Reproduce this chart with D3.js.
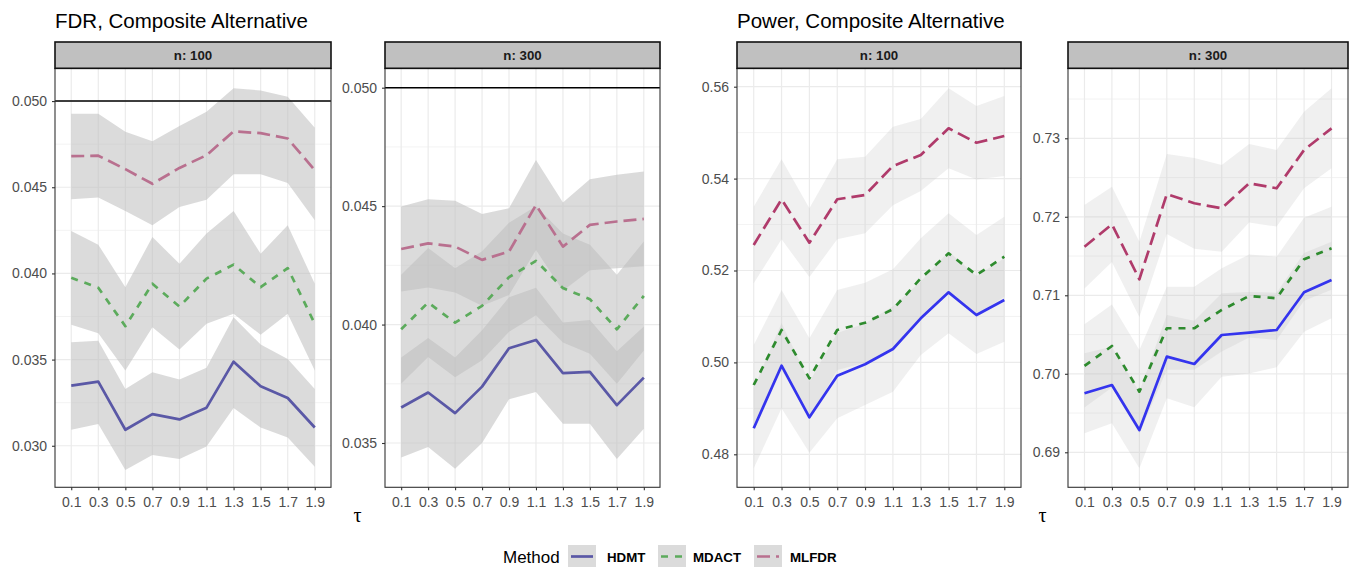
<!DOCTYPE html>
<html>
<head>
<meta charset="utf-8">
<script src="https://cdn.jsdelivr.net/npm/d3@7"></script>
<style>
  body { margin: 0; background: #ffffff; }
  svg { display: block; font-family: "Liberation Sans", Arial, Helvetica, sans-serif; }
</style>
</head>
<body>
<script>
// ---------------- DATA ----------------
const tau = ["0.1","0.3","0.5","0.7","0.9","1.1","1.3","1.5","1.7","1.9"];
const methods = ["HDMT","MDACT","MLFDR"];
const plotTitles = ["FDR, Composite Alternative", "Power, Composite Alternative"];
const stripLabels = ["n: 100", "n: 300", "n: 100", "n: 300"];
const xTitle = "τ";
const legendTitle = "Method";

// FDR, n = 100
const fdr100_HDMT     = [0.03349,0.03372,0.03093,0.03184,0.03153,0.03221,0.03488,0.03345,0.03277,0.03106];
const fdr100_HDMT_lo  = [0.03093,0.03126,0.02860,0.02946,0.02923,0.02996,0.03219,0.03106,0.03048,0.02878];
const fdr100_HDMT_hi  = [0.03601,0.03610,0.03330,0.03426,0.03384,0.03452,0.03746,0.03587,0.03504,0.03330];
const fdr100_MDACT    = [0.03975,0.03917,0.03694,0.03940,0.03808,0.03970,0.04051,0.03920,0.04031,0.03708];
const fdr100_MDACT_lo = [0.03702,0.03653,0.03436,0.03688,0.03558,0.03708,0.03766,0.03644,0.03766,0.03436];
const fdr100_MDACT_hi = [0.04246,0.04167,0.03920,0.04211,0.04056,0.04231,0.04362,0.04114,0.04279,0.03940];
const fdr100_MLFDR    = [0.04680,0.04683,0.04605,0.04520,0.04612,0.04686,0.04824,0.04814,0.04783,0.04599];
const fdr100_MLFDR_lo = [0.04430,0.04440,0.04362,0.04279,0.04386,0.04428,0.04576,0.04576,0.04525,0.04308];
const fdr100_MLFDR_hi = [0.04926,0.04926,0.04822,0.04767,0.04856,0.04938,0.05074,0.05062,0.05025,0.04845];

// FDR, n = 300
const fdr300_HDMT     = [0.03650,0.03713,0.03626,0.03738,0.03900,0.03935,0.03795,0.03800,0.03660,0.03776];
const fdr300_HDMT_lo  = [0.03439,0.03483,0.03391,0.03500,0.03685,0.03715,0.03581,0.03581,0.03433,0.03560];
const fdr300_HDMT_hi  = [0.03861,0.03943,0.03861,0.03976,0.04115,0.04155,0.04009,0.04019,0.03887,0.03992];
const fdr300_MDACT    = [0.03980,0.04093,0.04008,0.04079,0.04200,0.04269,0.04154,0.04107,0.03980,0.04121];
const fdr300_MDACT_lo = [0.03750,0.03863,0.03778,0.03849,0.03970,0.04039,0.03924,0.03877,0.03750,0.03891];
const fdr300_MDACT_hi = [0.04210,0.04323,0.04238,0.04309,0.04430,0.04499,0.04384,0.04337,0.04210,0.04351];
const fdr300_MLFDR    = [0.04319,0.04343,0.04329,0.04273,0.04308,0.04505,0.04329,0.04421,0.04435,0.04446];
const fdr300_MLFDR_lo = [0.04140,0.04157,0.04135,0.04079,0.04125,0.04315,0.04143,0.04229,0.04238,0.04246];
const fdr300_MLFDR_hi = [0.04498,0.04529,0.04523,0.04467,0.04491,0.04695,0.04515,0.04613,0.04632,0.04646];

// Power, n = 100
const pow100_HDMT     = [0.48566,0.49928,0.48805,0.49711,0.49959,0.50292,0.50960,0.51525,0.51031,0.51358];
const pow100_HDMT_lo  = [0.47695,0.49000,0.48035,0.48784,0.49073,0.49362,0.50160,0.50633,0.50183,0.50451];
const pow100_HDMT_hi  = [0.49437,0.50856,0.49575,0.50638,0.50845,0.51222,0.51760,0.52417,0.51879,0.52265];
const pow100_MDACT    = [0.49508,0.50705,0.49654,0.50705,0.50864,0.51156,0.51830,0.52374,0.51902,0.52300];
const pow100_MDACT_lo = [0.48638,0.49835,0.48784,0.49835,0.49994,0.50286,0.50960,0.51504,0.51032,0.51430];
const pow100_MDACT_hi = [0.50378,0.51575,0.50524,0.51575,0.51734,0.52026,0.52700,0.53244,0.52772,0.53170];
const pow100_MLFDR    = [0.52555,0.53549,0.52605,0.53550,0.53643,0.54274,0.54514,0.55095,0.54781,0.54927];
const pow100_MLFDR_lo = [0.51721,0.52678,0.51856,0.52680,0.52809,0.53418,0.53731,0.54225,0.53982,0.54056];
const pow100_MLFDR_hi = [0.53389,0.54420,0.53354,0.54420,0.54477,0.55130,0.55297,0.55965,0.55580,0.55798];

// Power, n = 300
const pow300_HDMT     = [0.69752,0.69857,0.69284,0.70218,0.70125,0.70494,0.70524,0.70558,0.71038,0.71195];
const pow300_HDMT_lo  = [0.69242,0.69370,0.68796,0.69688,0.69573,0.69963,0.70005,0.70083,0.70536,0.70707];
const pow300_HDMT_hi  = [0.70262,0.70344,0.69772,0.70748,0.70677,0.71025,0.71043,0.71033,0.71540,0.71683];
const pow300_MDACT    = [0.70100,0.70354,0.69772,0.70580,0.70580,0.70813,0.70991,0.70962,0.71459,0.71599];
const pow300_MDACT_lo = [0.69570,0.69824,0.69242,0.70050,0.70050,0.70283,0.70461,0.70432,0.70929,0.71069];
const pow300_MDACT_hi = [0.70630,0.70884,0.70302,0.71110,0.71110,0.71343,0.71521,0.71492,0.71989,0.72129];
const pow300_MLFDR    = [0.71619,0.71904,0.71204,0.72290,0.72172,0.72108,0.72427,0.72363,0.72851,0.73127];
const pow300_MLFDR_lo = [0.71088,0.71425,0.70725,0.71780,0.71594,0.71556,0.71927,0.71875,0.72363,0.72617];
const pow300_MLFDR_hi = [0.72150,0.72383,0.71683,0.72800,0.72750,0.72660,0.72927,0.72851,0.73339,0.73637];

// axis ticks
const fdr100_ticks = [0.030,0.035,0.040,0.045,0.050];
const fdr300_ticks = [0.035,0.040,0.045,0.050];
const pow100_ticks = [0.48,0.50,0.52,0.54,0.56];
const pow300_ticks = [0.69,0.70,0.71,0.72,0.73];
const fdrTarget = 0.05;

// ---------------- STYLE / LAYOUT ----------------
const W = 1349, H = 567;
const panelTop = 68.5, panelBottom = 487.3;
const stripTop = 42, stripBottom = 68.3;

const colorsFaded = { HDMT: "#5a58a6", MDACT: "#5cab5c", MLFDR: "#b9708f" };
const colorsBright = { HDMT: "#3434ee", MDACT: "#2e8b2e", MLFDR: "#b03b6b" };
const dashes = { HDMT: null, MDACT: "7,7", MLFDR: "13,6" };

function series(mean, lo, hi) { return { mean, lo, hi }; }

const panels = [
  { x0: 55, x1: 331, domain: [0.02759, 0.05189], ticks: fdr100_ticks, fmt: ".3f", hline: fdrTarget,
    colors: colorsFaded, ribbonOpacity: 0.55, strip: stripLabels[0],
    data: { HDMT: series(fdr100_HDMT, fdr100_HDMT_lo, fdr100_HDMT_hi),
            MDACT: series(fdr100_MDACT, fdr100_MDACT_lo, fdr100_MDACT_hi),
            MLFDR: series(fdr100_MLFDR, fdr100_MLFDR_lo, fdr100_MLFDR_hi) } },
  { x0: 385, x1: 660, domain: [0.03313, 0.05081], ticks: fdr300_ticks, fmt: ".3f", hline: fdrTarget,
    colors: colorsFaded, ribbonOpacity: 0.55, strip: stripLabels[1],
    data: { HDMT: series(fdr300_HDMT, fdr300_HDMT_lo, fdr300_HDMT_hi),
            MDACT: series(fdr300_MDACT, fdr300_MDACT_lo, fdr300_MDACT_hi),
            MLFDR: series(fdr300_MLFDR, fdr300_MLFDR_lo, fdr300_MLFDR_hi) } },
  { x0: 737, x1: 1021, domain: [0.47282, 0.56396], ticks: pow100_ticks, fmt: ".2f", hline: null,
    colors: colorsBright, ribbonOpacity: 0.23, strip: stripLabels[2],
    data: { HDMT: series(pow100_HDMT, pow100_HDMT_lo, pow100_HDMT_hi),
            MDACT: series(pow100_MDACT, pow100_MDACT_lo, pow100_MDACT_hi),
            MLFDR: series(pow100_MLFDR, pow100_MLFDR_lo, pow100_MLFDR_hi) } },
  { x0: 1068, x1: 1348, domain: [0.68554, 0.73889], ticks: pow300_ticks, fmt: ".2f", hline: null,
    colors: colorsBright, ribbonOpacity: 0.23, strip: stripLabels[3],
    data: { HDMT: series(pow300_HDMT, pow300_HDMT_lo, pow300_HDMT_hi),
            MDACT: series(pow300_MDACT, pow300_MDACT_lo, pow300_MDACT_hi),
            MLFDR: series(pow300_MLFDR, pow300_MLFDR_lo, pow300_MLFDR_hi) } }
];

// ---------------- DRAW ----------------
const svg = d3.select("body").append("svg").attr("width", W).attr("height", H);
svg.append("rect").attr("width", W).attr("height", H).attr("fill", "#ffffff");

// titles
svg.append("text").attr("x", 55).attr("y", 27.5).attr("font-size", "20.5px").attr("fill", "#000")
  .text(plotTitles[0]);
svg.append("text").attr("x", 737).attr("y", 27.5).attr("font-size", "20.5px").attr("fill", "#000")
  .text(plotTitles[1]);

panels.forEach((p, i) => {
  const x = d3.scalePoint().domain(tau).range([p.x0, p.x1]).padding(0.6);
  const y = d3.scaleLinear().domain(p.domain).range([panelBottom, panelTop]);
  const g = svg.append("g");

  const clipId = "clip" + i;
  svg.append("clipPath").attr("id", clipId).append("rect")
    .attr("x", p.x0).attr("y", panelTop).attr("width", p.x1 - p.x0).attr("height", panelBottom - panelTop);

  // minor horizontal grid (midpoints between major ticks)
  const step = p.ticks[1] - p.ticks[0];
  const minor = [];
  for (let k = -1; k < p.ticks.length; k++) {
    const v = p.ticks[0] + (k + 0.5) * step;
    if (v > p.domain[0] && v < p.domain[1]) minor.push(v);
  }
  g.selectAll(".minor").data(minor).join("line")
    .attr("x1", p.x0).attr("x2", p.x1).attr("y1", d => y(d)).attr("y2", d => y(d))
    .attr("stroke", "#ebebeb").attr("stroke-width", 0.6);
  g.selectAll(".major").data(p.ticks).join("line")
    .attr("x1", p.x0).attr("x2", p.x1).attr("y1", d => y(d)).attr("y2", d => y(d))
    .attr("stroke", "#ebebeb").attr("stroke-width", 1.2);
  g.selectAll(".vgrid").data(tau).join("line")
    .attr("x1", d => x(d)).attr("x2", d => x(d)).attr("y1", panelTop).attr("y2", panelBottom)
    .attr("stroke", "#ebebeb").attr("stroke-width", 1.2);

  const plotG = g.append("g").attr("clip-path", `url(#${clipId})`);

  // ribbons
  methods.forEach(m => {
    const s = p.data[m];
    const pts = tau.map((t, j) => ({ t, lo: s.lo[j], hi: s.hi[j] }));
    const area = d3.area().x(d => x(d.t)).y0(d => y(d.lo)).y1(d => y(d.hi));
    plotG.append("path").datum(pts).attr("d", area)
      .attr("fill", "#bebebe").attr("fill-opacity", p.ribbonOpacity);
  });

  if (p.hline !== null) {
    plotG.append("line").attr("x1", p.x0).attr("x2", p.x1)
      .attr("y1", y(p.hline)).attr("y2", y(p.hline))
      .attr("stroke", "#000").attr("stroke-width", 1.4);
  }

  // lines
  methods.forEach(m => {
    const s = p.data[m];
    const pts = tau.map((t, j) => ({ t, v: s.mean[j] }));
    const line = d3.line().x(d => x(d.t)).y(d => y(d.v));
    const path = plotG.append("path").datum(pts).attr("d", line)
      .attr("fill", "none").attr("stroke", p.colors[m]).attr("stroke-width", 2.7)
      .attr("stroke-linejoin", "round");
    if (dashes[m]) path.attr("stroke-dasharray", dashes[m]);
  });

  // panel border
  g.append("rect").attr("x", p.x0).attr("y", panelTop).attr("width", p.x1 - p.x0)
    .attr("height", panelBottom - panelTop).attr("fill", "none").attr("stroke", "#333333").attr("stroke-width", 1.1);

  // axes
  const yAxis = d3.axisLeft(y).tickValues(p.ticks).tickFormat(d3.format(p.fmt)).tickSize(3).tickPadding(5);
  const ya = svg.append("g").attr("transform", `translate(${p.x0},0)`).call(yAxis);
  const xAxis = d3.axisBottom(x).tickSize(3).tickPadding(6.3);
  const xa = svg.append("g").attr("transform", `translate(0,${panelBottom})`).call(xAxis);
  [ya, xa].forEach(a => {
    a.select(".domain").remove();
    a.selectAll(".tick line").attr("stroke", "#333333").attr("stroke-width", 1.1);
    a.selectAll(".tick text").attr("fill", "#4d4d4d").attr("font-size", "14px")
      .attr("font-family", "Liberation Sans, Arial, sans-serif");
  });

  // strip
  svg.append("rect").attr("x", p.x0).attr("y", stripTop).attr("width", p.x1 - p.x0)
    .attr("height", stripBottom - stripTop).attr("fill", "#c0c0c0").attr("stroke", "#111").attr("stroke-width", 1.6);
  svg.append("text").attr("x", (p.x0 + p.x1) / 2).attr("y", 60).attr("text-anchor", "middle")
    .attr("font-size", "13.3px").attr("font-weight", "bold").attr("fill", "#1a1a1a").text(p.strip);
});

// x titles (tau)
[[panels[0].x0, panels[1].x1], [panels[2].x0, panels[3].x1]].forEach(([a, b]) => {
  svg.append("text").attr("x", (a + b) / 2).attr("y", 522).attr("text-anchor", "middle")
    .attr("font-family", "Liberation Serif, DejaVu Serif, serif").attr("font-size", "20px")
    .attr("fill", "#000").text(xTitle);
});

// legend
const leg = svg.append("g");
leg.append("text").attr("x", 503).attr("y", 562.5).attr("font-size", "17px").attr("fill", "#000").text(legendTitle);
const keyX = [568, 658, 754];
const labX = [607, 693, 790];
methods.forEach((m, i) => {
  const kx = keyX[i];
  leg.append("rect").attr("x", kx).attr("y", 545).attr("width", 28).attr("height", 23)
    .attr("fill", "#bebebe").attr("fill-opacity", 0.55);
  const ln = leg.append("line").attr("x1", kx + 3).attr("x2", kx + 25).attr("y1", 556.5).attr("y2", 556.5)
    .attr("stroke", colorsFaded[m]).attr("stroke-width", 2.7);
  if (dashes[m]) ln.attr("stroke-dasharray", dashes[m]);
  leg.append("text").attr("x", labX[i]).attr("y", 561.5).attr("font-size", "13.3px").attr("font-weight", "bold")
    .attr("fill", "#000").text(m);
});
</script>
</body>
</html>
